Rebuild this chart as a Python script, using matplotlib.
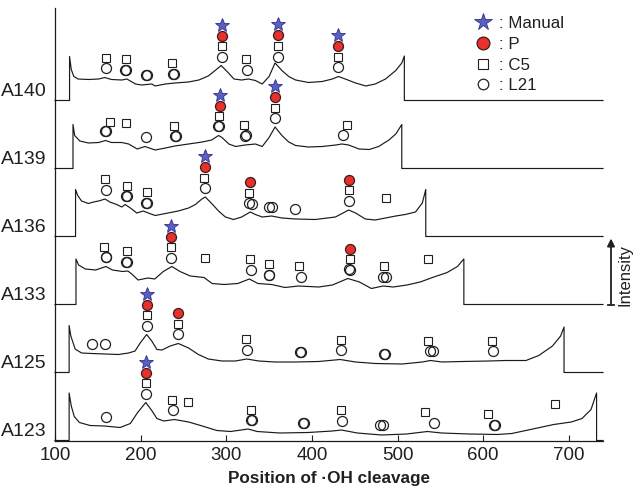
import numpy as np
import matplotlib
matplotlib.use("Agg")
import matplotlib.pyplot as plt
from matplotlib.lines import Line2D

plt.rcParams["font.family"] = ["Liberation Sans", "DejaVu Sans"]

INK = "#231f20"

# Samples from bottom to top of the stack
samples = ["A123", "A125", "A133", "A136", "A139", "A140"]
x_ticks = [100, 200, 300, 400, 500, 600, 700]

# Cleavage profiles: position along the strand and band intensity (a.u.)
a123_pos = [116.5, 119, 122.5, 128.5, 141, 157.5, 176, 188, 196.5, 206, 213, 219, 227,
            239.5, 256, 272, 289, 305, 317.5, 325.5, 336, 362.5, 395.5, 424, 434.5, 453,
            481.5, 510.5, 535, 551.5, 584, 617, 633.5, 658, 682.5, 703, 715.5, 726, 732.5]
a123_int = [47.5, 34.5, 24, 18, 15, 14.5, 13, 17, 28, 38, 30, 22, 19.5,
            21, 18.5, 14.5, 10, 9, 10.5, 11.5, 9, 7.5, 8, 9.5, 10.5, 7.5,
            5.5, 6.5, 9, 7.5, 6.5, 6, 7, 11.5, 16, 18.5, 22, 31, 47.5]

a125_pos = [116.5, 118.5, 123.5, 131, 143, 158.5, 174, 186, 193.5, 199.5, 207, 213, 219,
            225, 234.5, 244, 256, 267.5, 279, 295, 310.5, 324, 338, 357, 381, 408, 433,
            451, 474, 505.5, 529, 538.5, 552, 575.5, 607, 626, 650, 665, 681, 690.5, 694.5]
a125_int = [47, 36.5, 23.5, 19.5, 19, 18.5, 18, 19.5, 21.5, 29.5, 38, 31.5, 23,
            22.5, 26.5, 29, 24.5, 18, 13.5, 11.5, 11.5, 13.5, 11.5, 10.5, 10.5, 11, 13,
            10.5, 9, 8.5, 10.5, 12, 10.5, 11, 11.5, 12, 12, 17, 26.5, 36.5, 45.5]

a133_pos = [124.5, 127.5, 135.5, 147.5, 159.5, 167, 179, 185, 189, 197, 208.5, 216.5,
            226.5, 236.5, 246, 258, 274, 283.5, 297.5, 313.5, 327, 337, 353, 368.5,
            384.5, 408, 424, 442, 455.5, 469.5, 483, 495, 511, 526.5, 542.5, 558, 570, 577.5]
a133_int = [45.5, 39.5, 35.5, 34.5, 38, 34.5, 33, 33.5, 31, 24.5, 26.5, 25.5,
            33, 38, 33, 28.5, 27, 21, 20, 21, 25.5, 21, 20, 17,
            18.5, 17.5, 19.5, 26, 22.5, 16, 18.5, 17.5, 19.5, 22.5, 27.5, 32, 38, 45.5]

a136_pos = [124, 126.5, 131, 139, 145, 151, 158.5, 164, 172, 178, 182, 188, 195.5, 203,
            209, 217, 229, 244, 256, 264, 271.5, 275.5, 283, 291, 299, 308.5, 318, 328,
            334, 342, 353, 365, 381, 404, 427.5, 443, 451, 462.5, 474, 486, 498, 509,
            521, 529, 533]
a136_int = [47, 41, 35.5, 33, 34.5, 35.5, 37.5, 34.5, 32, 29.5, 32, 28.5, 23.5, 25.5,
            23.5, 21, 23, 25.5, 28.5, 32, 37.5, 39.5, 33, 25.5, 19.5, 17, 19.5, 24.5,
            22, 19.5, 20.5, 18.5, 17.5, 17, 19.5, 26.5, 23.5, 17.5, 16.5, 18.5, 20.5, 22,
            24.5, 33.5, 47]

a139_pos = [121, 123, 129, 139, 151, 159, 166, 178, 186, 196, 205, 217, 229, 240, 256,
            272, 283, 291, 295, 303, 311, 322, 334, 342, 350, 357, 365, 373, 381, 396,
            412, 428, 435, 443, 455, 467, 478, 490, 498, 505]
a139_int = [44, 33, 27.5, 25.5, 26, 28, 26, 26, 24.5, 19.5, 22, 18.5, 20.5, 22.5, 24.5,
            26.5, 28.5, 33, 31, 24.5, 22, 23.5, 24.5, 22, 31, 41.5, 33, 26.5, 23, 21.5,
            22, 23.5, 24.5, 23.5, 19.5, 19, 22, 28.5, 34.5, 44]

a140_pos = [117, 119, 122, 127, 139, 151, 158, 166, 178, 184, 194, 201, 213, 217, 229,
            240, 256, 268, 279, 287, 294, 301, 309, 318, 326, 334, 342, 350, 357, 365,
            373, 381, 396, 412, 424, 431, 439, 451, 463, 474, 486, 498, 505, 508]
a140_int = [44, 31, 24, 21.5, 21, 21.5, 23, 21, 20.5, 21.5, 16.5, 15.5, 16.5, 14.5, 16.5,
            17.5, 18.5, 20.5, 24.5, 30, 35, 29, 21.5, 20.5, 21.5, 20, 16.5, 24, 37.5, 30,
            24, 20.5, 18, 19, 21.5, 24, 21.5, 17.5, 14.5, 16.5, 21.5, 30, 37.5, 44.5]

# Cleavage positions called by each method
a123_l21 = [159.5, 206.5, 238, 328.5, 329.5, 389.5, 390.5, 435.5, 479.5, 483, 542.5, 613, 614]
a123_c5 = [206.5, 237, 255, 328.5, 434.5, 532.5, 605.5, 683.5]
a123_p = [206.5]
a123_manual = [206.5]

a125_l21 = [143, 158, 208, 244, 324, 386.5, 387.5, 434.5, 484, 485, 538, 542, 611]
a125_c5 = [207, 243.5, 323.5, 433.5, 535.5, 610]
a125_p = [208, 244]
a125_manual = [208]

a133_l21 = [159, 160, 183.5, 184.5, 235.5, 329, 349.5, 350.5, 387, 443.5, 444.5, 483.5, 486.5]
a133_c5 = [157.5, 184, 235, 275, 328, 350, 385.5, 444, 484, 535.5]
a133_p = [235.5, 444]
a133_manual = [235.5]

a136_l21 = [159, 183.5, 184.5, 206.5, 207.5, 275.5, 326.5, 330.5, 349.5, 353, 380.5, 443]
a136_c5 = [158, 184, 207, 274.5, 326.5, 443, 486.5]
a136_p = [275.5, 327.5, 443]
a136_manual = [275.5]

a139_l21 = [158.5, 159.5, 206, 240.5, 241.5, 290.5, 291.5, 321.5, 322.5, 357.5, 436.5]
a139_c5 = [164, 183, 238.5, 292, 320.5, 357.5, 441]
a139_p = [292.5, 357.5]
a139_manual = [292.5, 357.5]

a140_l21 = [159.5, 182, 183, 206, 207, 237.5, 238.5, 295, 324, 361, 431]
a140_c5 = [159, 182.5, 237, 295, 323.5, 360.5, 430.5]
a140_p = [295, 360, 431]
a140_manual = [295, 360, 431]

profiles = {
    "A123": (a123_pos, a123_int), "A125": (a125_pos, a125_int),
    "A133": (a133_pos, a133_int), "A136": (a136_pos, a136_int),
    "A139": (a139_pos, a139_int), "A140": (a140_pos, a140_int),
}
calls = {
    "A123": (a123_l21, a123_c5, a123_p, a123_manual),
    "A125": (a125_l21, a125_c5, a125_p, a125_manual),
    "A133": (a133_l21, a133_c5, a133_p, a133_manual),
    "A136": (a136_l21, a136_c5, a136_p, a136_manual),
    "A139": (a139_l21, a139_c5, a139_p, a139_manual),
    "A140": (a140_l21, a140_c5, a140_p, a140_manual),
}

XMIN, XMAX = 100, 740
SPACING = 68.0          # vertical offset between stacked profiles
TOP = 433.0

# marker styles, stacked from the trace upwards: L21, C5, P, Manual
styles = [
    dict(marker="o", ms=7.2, mfc="none", mec=INK, mew=0.9),
    dict(marker="s", ms=5.4, mfc="none", mec=INK, mew=0.8),
    dict(marker="o", ms=7.2, mfc="#e8312a", mec="#3b1c1c", mew=0.9),
    dict(marker="*", ms=10.5, mfc="#5a5fc0", mec="#2e3192", mew=0.6),
]
lifts = [9.5, 20.0, 30.5, 41.5]

fig = plt.figure(figsize=(6.33, 4.88), dpi=100)
ax = fig.add_axes([55 / 633, 47.5 / 488, 548 / 633, TOP / 488])

for i, name in enumerate(samples):
    off = i * SPACING
    pos = np.asarray(profiles[name][0], float)
    inten = np.asarray(profiles[name][1], float)
    xs = np.concatenate([[XMIN, pos[0]], pos, [pos[-1], XMAX]])
    ys = np.concatenate([[0.0, 0.0], inten, [0.0, 0.0]]) + off
    ax.plot(xs, ys, color="#1a1a1a", lw=0.85, solid_joinstyle="round", clip_on=False, zorder=2)
    for vals, st, lift in zip(calls[name], styles, lifts):
        vals = np.asarray(vals, float)
        yv = np.interp(vals, pos, inten) + off + lift
        ax.plot(vals, yv, ls="none", zorder=3, clip_on=False, **st)

ax.set_xlim(XMIN, XMAX)
ax.set_ylim(0, TOP)
ax.set_xticks(x_ticks)
ax.set_yticks([i * SPACING + 11.5 for i in range(len(samples))])
ax.set_yticklabels(samples)
ax.tick_params(axis="x", direction="in", length=4, width=0.8, color=INK,
               labelsize=13.5, labelcolor=INK, pad=5)
ax.tick_params(axis="y", length=0, labelsize=14, labelcolor=INK, pad=6)
for side in ("top", "right"):
    ax.spines[side].set_visible(False)
for side in ("left", "bottom"):
    ax.spines[side].set_linewidth(0.9)
    ax.spines[side].set_color("#1a1a1a")

ax.set_xlabel("Position of \u00b7OH cleavage", fontsize=12.3, fontweight="bold",
              color=INK, labelpad=5)

# intensity direction arrow on the right
yt = ax.get_yaxis_transform()
ax.annotate("", xy=(1.0146, 202), xytext=(1.0146, 2 * SPACING), xycoords=yt,
            textcoords=yt,
            arrowprops=dict(arrowstyle="-|>", lw=1.3, color=INK, mutation_scale=11,
                            shrinkA=0, shrinkB=0))
ax.plot([1.0085, 1.0207], [2 * SPACING, 2 * SPACING], transform=yt, color=INK,
        lw=1.3, clip_on=False)
ax.text(1.041, 165, "Intensity", rotation=90, ha="center", va="center",
        transform=yt, fontsize=12, color=INK)

handles = [Line2D([], [], ls="none", **dict(styles[3], ms=13)),
           Line2D([], [], ls="none", **dict(styles[2], ms=9.2)),
           Line2D([], [], ls="none", **dict(styles[1], ms=6.8)),
           Line2D([], [], ls="none", **dict(styles[0], ms=7.6))]
ax.legend(handles, [": Manual", ": P", ": C5", ": L21"], loc="upper left",
          bbox_to_anchor=(475 / 633, 1 - 16 / 488), bbox_transform=fig.transFigure,
          frameon=False, borderpad=0, borderaxespad=0, handlelength=1.0,
          handletextpad=0.4, labelspacing=0.34, fontsize=12.2, labelcolor=INK)

fig.savefig("out.png", dpi=100)
